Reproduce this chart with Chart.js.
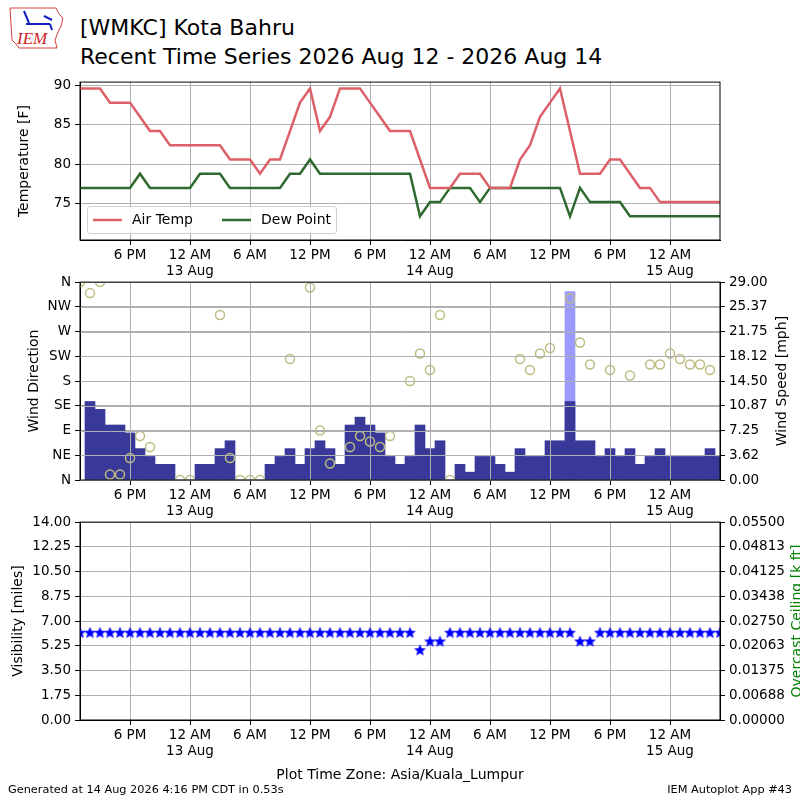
<!DOCTYPE html>
<html>
<head>
<meta charset="utf-8">
<script src="https://cdn.jsdelivr.net/npm/chart.js@4/dist/chart.umd.min.js"></script>
<style>
body { margin: 0; background: #fff; font-family: "DejaVu Sans", sans-serif; }
#page { position: relative; width: 800px; height: 800px; overflow: hidden; }
.box { position: absolute; left: 0; width: 800px; }
.t { position: absolute; white-space: nowrap; color: #000; line-height: 1; }
</style>
</head>
<body>
<div id="page">
  <svg style="position:absolute;left:6px;top:4px" width="62" height="48" viewBox="0 0 62 48">
    <path d="M4 4 L50 4 L53 10 L57 14 L55 22 L52 28 L49 36 L51 44 L13 44 L10 40 L6 36 L5 20 Z" fill="none" stroke="#d04040" stroke-width="1"/>
    <path d="M18 7 L23 19 M20 20 L44 20 M38 12 L46 16 M44 20 L46 26" stroke="#1020c0" stroke-width="2" fill="none"/>
    <text x="11" y="40" font-family="Liberation Serif" font-style="italic" font-size="17" fill="#cc2222">IEM</text>
  </svg>
  <div class="t" style="left:80px;top:17px;font-size:22px">[WMKC] Kota Bahru</div>
  <div class="t" style="left:80px;top:46px;font-size:22px">Recent Time Series 2026 Aug 12 - 2026 Aug 14</div>
  <div class="box" style="top:70px;height:210px"><canvas id="c1"></canvas></div>
  <div class="box" style="top:270px;height:260px"><canvas id="c2"></canvas></div>
  <div class="box" style="top:510px;height:290px"><canvas id="c3"></canvas></div>
  <div class="t" style="left:8px;top:784px;font-size:11.3px">Generated at 14 Aug 2026 4:16 PM CDT in 0.53s</div>
  <div class="t" style="right:8px;top:784px;font-size:11.3px">IEM Autoplot App #43</div>
</div>
<script>
// x axis is hours since 1 PM 12 Aug (local time)
const tickHours = [5, 11, 17, 23, 29, 35, 41, 47, 53, 59];
const tickLabels = ['6 PM', ['12 AM', '13 Aug'], '6 AM', '12 PM', '6 PM', ['12 AM', '14 Aug'], '6 AM', '12 PM', '6 PM', ['12 AM', '15 Aug']];

// hourly obs, first value at hour 0
const airTemp = [89.6, 89.6, 89.6, 87.8, 87.8, 87.8, 86.0, 84.2, 84.2, 82.4,
  82.4, 82.4, 82.4, 82.4, 82.4, 80.6, 80.6, 80.6, 78.8, 80.6,
  80.6, 84.2, 87.8, 89.6, 84.2, 86.0, 89.6, 89.6, 89.6, 87.8,
  86.0, 84.2, 84.2, 84.2, 80.6, 77.0, 77.0, 77.0, 78.8, 78.8,
  78.8, 77.0, 77.0, 77.0, 80.6, 82.4, 86.0, 87.8, 89.6, 84.2,
  78.8, 78.8, 78.8, 80.6, 80.6, 78.8, 77.0, 77.0, 75.2, 75.2,
  75.2, 75.2, 75.2, 75.2, 75.2];
const dewPoint = [77.0, 77.0, 77.0, 77.0, 77.0, 77.0, 78.8, 77.0, 77.0, 77.0,
  77.0, 77.0, 78.8, 78.8, 78.8, 77.0, 77.0, 77.0, 77.0, 77.0,
  77.0, 78.8, 78.8, 80.6, 78.8, 78.8, 78.8, 78.8, 78.8, 78.8,
  78.8, 78.8, 78.8, 78.8, 73.4, 75.2, 75.2, 77.0, 77.0, 77.0,
  75.2, 77.0, 77.0, 77.0, 77.0, 77.0, 77.0, 77.0, 77.0, 73.4,
  77.0, 75.2, 75.2, 75.2, 75.2, 73.4, 73.4, 73.4, 73.4, 73.4,
  73.4, 73.4, 73.4, 73.4, 73.4];
const tempTicks = [75, 80, 85, 90];

// wind speed [mph], first value at hour 1
const windSpeed = [11.5, 10.36, 8.06, 8.06, 6.9, 4.6, 3.45, 2.3, 2.3, 0,
  0, 2.3, 2.3, 4.6, 5.75, 0, 0, 0, 2.3, 3.45,
  4.6, 2.3, 4.6, 5.75, 4.6, 2.3, 8.06, 9.21, 8.06, 6.9,
  3.45, 2.3, 3.45, 8.06, 4.6, 5.75, 0, 2.3, 1.15, 3.45,
  3.45, 2.3, 1.15, 4.6, 3.45, 3.45, 5.75, 5.75, 11.5, 5.75,
  5.75, 3.45, 4.6, 3.45, 4.6, 2.3, 3.45, 4.6, 3.45, 3.45,
  3.45, 3.45, 4.6, 3.45];
const gustHours = [49];
const gustSpeed = [27.6];
// wind direction [deg], first value at hour 0
const windDir = [360, 340, 360, 10, 10, 40, 80, 60, null, null,
  0, 0, null, null, 300, 40, 0, 0, 0, null,
  null, 220, null, 350, 90, 30, null, 60, 80, 70,
  60, 80, null, 180, 230, 200, 300, 0, null, null,
  null, null, null, null, 220, 200, 230, 240, null, 330,
  250, 210, null, 200, null, 190, null, 210, 210, 230,
  220, 210, 210, 200];
const dirLabels = ['N', 'NE', 'E', 'SE', 'S', 'SW', 'W', 'NW', 'N'];
const spdLabels = ['0.00', '3.62', '7.25', '10.87', '14.50', '18.12', '21.75', '25.37', '29.00'];

// visibility [miles], first value at hour 0
const visibility = [6.21, 6.21, 6.21, 6.21, 6.21, 6.21, 6.21, 6.21, 6.21, 6.21,
  6.21, 6.21, 6.21, 6.21, 6.21, 6.21, 6.21, 6.21, 6.21, 6.21,
  6.21, 6.21, 6.21, 6.21, 6.21, 6.21, 6.21, 6.21, 6.21, 6.21,
  6.21, 6.21, 6.21, 6.21, 4.97, 5.59, 5.59, 6.21, 6.21, 6.21,
  6.21, 6.21, 6.21, 6.21, 6.21, 6.21, 6.21, 6.21, 6.21, 6.21,
  5.59, 5.59, 6.21, 6.21, 6.21, 6.21, 6.21, 6.21, 6.21, 6.21,
  6.21, 6.21, 6.21, 6.21, 6.21];
const visLabels = ['0.00', '1.75', '3.50', '5.25', '7.00', '8.75', '10.50', '12.25', '14.00'];
const ceilLabels = ['0.00000', '0.00688', '0.01375', '0.02063', '0.02750', '0.03438', '0.04125', '0.04813', '0.05500'];

Chart.defaults.font.family = 'DejaVu Sans';
Chart.defaults.font.size = 13.5;
Chart.defaults.color = '#000';

const pts = (arr, off) => arr.map((v, i) => ({ x: i + off, y: v }));
const gridOpts = { color: '#b0b0b0', tickColor: '#000', tickLength: 5, offset: false };
const axisTitle = (text, pad) => ({ display: true, text, font: { size: 14 }, padding: { top: pad, bottom: pad } });

function xAxis(h, extra) {
  return Object.assign({
    type: 'linear', min: 0, max: 64, offset: false,
    afterBuildTicks: s => { s.ticks = tickHours.map(v => ({ value: v })); },
    afterFit: s => { s.height = h; },
    ticks: { autoSkip: false, maxRotation: 0, padding: 2, callback: (v, i) => tickLabels[i] },
    grid: Object.assign({}, gridOpts),
    border: { color: '#000' }
  }, extra || {});
}

function yAxis(pos, min, max, tickVals, labels, title, extra) {
  return Object.assign({
    position: pos, min, max,
    afterBuildTicks: s => { s.ticks = tickVals.map(v => ({ value: v })); },
    afterFit: s => { s.width = 80; },
    ticks: { padding: 4, callback: (v, i) => labels ? labels[i] : v },
    grid: Object.assign({}, gridOpts),
    border: { color: '#000' },
    title: title || { display: false }
  }, extra || {});
}

const frame = {
  id: 'frame',
  afterDraw(c) {
    const a = c.chartArea, g = c.ctx;
    g.save();
    g.strokeStyle = '#000';
    g.lineWidth = 1;
    g.strokeRect(a.left, a.top, a.right - a.left, a.bottom - a.top);
    g.restore();
  }
};

// right-hand axis title, read bottom to top
function rightTitle(text, x, color) {
  return {
    id: 'rightTitle',
    afterDraw(c) {
      const a = c.chartArea, g = c.ctx;
      g.save();
      g.translate(x, (a.top + a.bottom) / 2);
      g.rotate(-Math.PI / 2);
      g.font = '14px "DejaVu Sans"';
      g.fillStyle = color;
      g.textAlign = 'center';
      g.textBaseline = 'middle';
      g.fillText(text, 0, 0);
      g.restore();
    }
  };
}

// grid lines drawn over the wind bars
const gridOnTop = {
  id: 'gridOnTop',
  afterDatasetsDraw(c) {
    const a = c.chartArea, g = c.ctx, sx = c.scales.x, sy = c.scales.yDir;
    g.save();
    g.strokeStyle = '#b0b0b0';
    g.lineWidth = 1;
    g.beginPath();
    sx.ticks.forEach(t => { const px = Math.round(sx.getPixelForValue(t.value)) + 0.5; g.moveTo(px, a.top); g.lineTo(px, a.bottom); });
    sy.ticks.forEach(t => { const py = Math.round(sy.getPixelForValue(t.value)) + 0.5; g.moveTo(a.left, py); g.lineTo(a.right, py); });
    g.stroke();
    g.restore();
  }
};

const legendBox = {
  id: 'legendBox',
  afterDatasetsDraw(c) {
    const a = c.chartArea, g = c.ctx;
    const x0 = a.left + 7, h = 27, y0 = a.bottom - 34, w = 249;
    g.save();
    g.fillStyle = 'rgba(255,255,255,0.85)';
    g.strokeStyle = '#d0d0d0';
    g.lineWidth = 1;
    g.beginPath();
    g.roundRect(x0 + 0.5, y0 + 0.5, w, h, 3);
    g.fill();
    g.stroke();
    g.font = '14px "DejaVu Sans"';
    g.textBaseline = 'middle';
    [0, 129].forEach((dx, i) => {
      const d = c.data.datasets[i], lx = x0 + 6 + dx, ly = y0 + h / 2 + 0.5;
      g.strokeStyle = d.borderColor;
      g.lineWidth = 2.5;
      g.beginPath();
      g.moveTo(lx, ly);
      g.lineTo(lx + 29, ly);
      g.stroke();
      g.fillStyle = '#000';
      g.fillText(d.label, lx + 39, ly);
    });
    g.restore();
  }
};

function starImage(size, color) {
  const cv = document.createElement('canvas');
  cv.width = cv.height = size;
  const g = cv.getContext('2d');
  const c = size / 2, r = size / 2 - 0.2, ri = r * 0.44;
  g.beginPath();
  for (let k = 0; k < 10; k++) {
    const rr = k % 2 ? ri : r, ang = -Math.PI / 2 + k * Math.PI / 5;
    g.lineTo(c + rr * Math.cos(ang), c + rr * Math.sin(ang) + 0.7);
  }
  g.closePath();
  g.fillStyle = color;
  g.fill();
  return cv;
}

const base = {
  responsive: true, maintainAspectRatio: false, animation: false,
  plugins: { legend: { display: false }, tooltip: { enabled: false } }
};

// temperature panel
new Chart(document.getElementById('c1'), {
  type: 'line',
  data: {
    datasets: [
      { label: 'Air Temp', data: pts(airTemp, 0), borderColor: '#dd6068', borderWidth: 2.5, pointRadius: 0, tension: 0 },
      { label: 'Dew Point', data: pts(dewPoint, 0), borderColor: '#2e6a30', borderWidth: 2.5, pointRadius: 0, tension: 0 }
    ]
  },
  options: Object.assign({}, base, {
    layout: { padding: { top: 10, right: 80 } },
    scales: {
      x: xAxis(40),
      y: yAxis('left', 70.4, 90.4, tempTicks, null, axisTitle('Temperature [F]', 15.5))
    }
  }),
  plugins: [frame, legendBox]
});

// wind panel
new Chart(document.getElementById('c2'), {
  type: 'bar',
  data: {
    datasets: [
      { type: 'line', label: 'Wind Direction', data: pts(windDir, 0), yAxisID: 'yDir', showLine: false,
        pointStyle: 'circle', pointRadius: 4.5, pointBorderWidth: 1.5, borderColor: '#bdbd80', backgroundColor: 'rgba(0,0,0,0)', order: 0 },
      { label: 'Wind Speed', data: pts(windSpeed, 1), yAxisID: 'ySpd', backgroundColor: '#39399a',
        barPercentage: 1, categoryPercentage: 1, grouped: false, order: 1 },
      { label: 'Wind Gust', data: gustHours.map((h, i) => ({ x: h, y: gustSpeed[i] })), yAxisID: 'ySpd', backgroundColor: '#9a9aff',
        barPercentage: 1, categoryPercentage: 1, grouped: false, order: 2 }
    ]
  },
  options: Object.assign({}, base, {
    layout: { padding: { top: 10 } },
    scales: {
      x: xAxis(50),
      yDir: yAxis('left', 0, 360, dirLabels.map((_, i) => i * 45), dirLabels, axisTitle('Wind Direction', 25.5)),
      ySpd: yAxis('right', 0, 29, spdLabels.map((_, i) => i * 29 / 8), spdLabels, null,
        { grid: Object.assign({}, gridOpts, { drawOnChartArea: false }) })
    }
  }),
  plugins: [gridOnTop, frame, rightTitle('Wind Speed [mph]', 782, '#000')]
});

// visibility panel
new Chart(document.getElementById('c3'), {
  type: 'scatter',
  data: {
    datasets: [
      { label: 'Visibility', data: pts(visibility, 0), yAxisID: 'yVis', pointStyle: starImage(13, '#0000ff'), pointRadius: 6.5 }
    ]
  },
  options: Object.assign({}, base, {
    layout: { padding: { top: 10 } },
    scales: {
      x: xAxis(80, { title: { display: true, text: 'Plot Time Zone: Asia/Kuala_Lumpur', font: { size: 14 }, padding: { top: 0, bottom: 16.5 } } }),
      yVis: yAxis('left', 0, 14, visLabels.map((_, i) => i * 14 / 8), visLabels, axisTitle('Visibility [miles]', 10)),
      yCeil: yAxis('right', 0, 0.055, ceilLabels.map((_, i) => i * 0.055 / 8), ceilLabels, null,
        { display: true, grid: Object.assign({}, gridOpts, { drawOnChartArea: false }) })
    }
  }),
  plugins: [frame, rightTitle('Overcast Ceiling [k ft]', 797, '#008000')]
});
</script>
</body>
</html>
